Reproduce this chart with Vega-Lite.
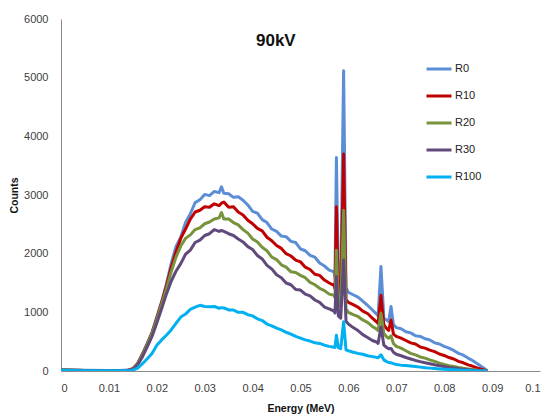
{
  "$schema": "https://vega.github.io/schema/vega-lite/v6.json",
  "width": 479,
  "height": 352,
  "autosize": "none",
  "padding": {"left": 61, "top": 19, "right": 9, "bottom": 48},
  "background": "white",
  "title": {"text": "90kV", "fontSize": 17, "fontWeight": "bold", "font": "Liberation Sans", "color": "#111111", "anchor": "start", "frame": "group", "dx": 195, "dy": 41},
  "config": {
    "view": {"stroke": null},
    "font": "Liberation Sans",
    "axis": {"grid": false, "ticks": false, "tickSize": 0, "domainColor": "#8c8c8c", "domainWidth": 1, "labelFont": "Liberation Sans", "labelFontSize": 11, "labelColor": "#404040", "titleFont": "Liberation Sans", "titleFontSize": 10.5, "titleFontWeight": "bold", "titleColor": "#111111"},
    "legend": {"orient": "none", "legendX": 364, "legendY": 36, "padding": 0, "symbolType": "stroke", "symbolSize": 625, "symbolStrokeWidth": 3, "labelFont": "Liberation Sans", "labelFontSize": 11, "labelColor": "#222222", "labelOffset": 2, "rowPadding": 7, "title": null}
  },
  "data": {"values": [
{"s":"R0","e":0,"c":20},{"s":"R0","e":0.005,"c":12},{"s":"R0","e":0.01,"c":10},{"s":"R0","e":0.012,"c":10},{"s":"R0","e":0.014,"c":15},{"s":"R0","e":0.015,"c":40},{"s":"R0","e":0.016,"c":130},{"s":"R0","e":0.017,"c":290},{"s":"R0","e":0.018,"c":470},{"s":"R0","e":0.019,"c":660},{"s":"R0","e":0.02,"c":920},{"s":"R0","e":0.021,"c":1180},{"s":"R0","e":0.022,"c":1480},{"s":"R0","e":0.023,"c":1830},{"s":"R0","e":0.024,"c":2120},{"s":"R0","e":0.025,"c":2280},{"s":"R0","e":0.026,"c":2530},{"s":"R0","e":0.027,"c":2680},{"s":"R0","e":0.028,"c":2870},{"s":"R0","e":0.029,"c":2920},{"s":"R0","e":0.03,"c":3010},{"s":"R0","e":0.031,"c":2990},{"s":"R0","e":0.032,"c":3060},{"s":"R0","e":0.033,"c":3040},{"s":"R0","e":0.0335,"c":3140},{"s":"R0","e":0.034,"c":3030},{"s":"R0","e":0.035,"c":3020},{"s":"R0","e":0.036,"c":2960},{"s":"R0","e":0.037,"c":2970},{"s":"R0","e":0.038,"c":2910},{"s":"R0","e":0.039,"c":2830},{"s":"R0","e":0.04,"c":2720},{"s":"R0","e":0.041,"c":2690},{"s":"R0","e":0.042,"c":2580},{"s":"R0","e":0.043,"c":2530},{"s":"R0","e":0.044,"c":2420},{"s":"R0","e":0.045,"c":2380},{"s":"R0","e":0.046,"c":2300},{"s":"R0","e":0.047,"c":2290},{"s":"R0","e":0.048,"c":2210},{"s":"R0","e":0.049,"c":2190},{"s":"R0","e":0.05,"c":2080},{"s":"R0","e":0.051,"c":2050},{"s":"R0","e":0.052,"c":1970},{"s":"R0","e":0.053,"c":1940},{"s":"R0","e":0.054,"c":1840},{"s":"R0","e":0.055,"c":1790},{"s":"R0","e":0.056,"c":1720},{"s":"R0","e":0.057,"c":1690},{"s":"R0","e":0.0572,"c":1600},{"s":"R0","e":0.0575,"c":3640},{"s":"R0","e":0.0579,"c":1500},{"s":"R0","e":0.0584,"c":1450},{"s":"R0","e":0.059,"c":5120},{"s":"R0","e":0.0595,"c":1420},{"s":"R0","e":0.06,"c":1340},{"s":"R0","e":0.061,"c":1300},{"s":"R0","e":0.062,"c":1260},{"s":"R0","e":0.063,"c":1190},{"s":"R0","e":0.064,"c":1120},{"s":"R0","e":0.065,"c":1040},{"s":"R0","e":0.066,"c":960},{"s":"R0","e":0.0662,"c":940},{"s":"R0","e":0.0668,"c":1780},{"s":"R0","e":0.0674,"c":900},{"s":"R0","e":0.068,"c":870},{"s":"R0","e":0.0684,"c":840},{"s":"R0","e":0.0689,"c":1100},{"s":"R0","e":0.0694,"c":790},{"s":"R0","e":0.07,"c":740},{"s":"R0","e":0.071,"c":720},{"s":"R0","e":0.072,"c":670},{"s":"R0","e":0.073,"c":650},{"s":"R0","e":0.074,"c":600},{"s":"R0","e":0.075,"c":590},{"s":"R0","e":0.076,"c":550},{"s":"R0","e":0.077,"c":530},{"s":"R0","e":0.078,"c":480},{"s":"R0","e":0.079,"c":460},{"s":"R0","e":0.08,"c":420},{"s":"R0","e":0.081,"c":390},{"s":"R0","e":0.082,"c":350},{"s":"R0","e":0.083,"c":300},{"s":"R0","e":0.084,"c":270},{"s":"R0","e":0.085,"c":220},{"s":"R0","e":0.086,"c":175},{"s":"R0","e":0.087,"c":120},{"s":"R0","e":0.088,"c":65},{"s":"R0","e":0.089,"c":5},
{"s":"R10","e":0,"c":18},{"s":"R10","e":0.005,"c":10},{"s":"R10","e":0.01,"c":8},{"s":"R10","e":0.012,"c":8},{"s":"R10","e":0.014,"c":14},{"s":"R10","e":0.015,"c":38},{"s":"R10","e":0.016,"c":125},{"s":"R10","e":0.017,"c":280},{"s":"R10","e":0.018,"c":460},{"s":"R10","e":0.019,"c":650},{"s":"R10","e":0.02,"c":900},{"s":"R10","e":0.021,"c":1160},{"s":"R10","e":0.022,"c":1450},{"s":"R10","e":0.023,"c":1760},{"s":"R10","e":0.024,"c":2030},{"s":"R10","e":0.025,"c":2260},{"s":"R10","e":0.026,"c":2420},{"s":"R10","e":0.027,"c":2590},{"s":"R10","e":0.028,"c":2710},{"s":"R10","e":0.029,"c":2740},{"s":"R10","e":0.03,"c":2800},{"s":"R10","e":0.031,"c":2790},{"s":"R10","e":0.032,"c":2850},{"s":"R10","e":0.033,"c":2820},{"s":"R10","e":0.0335,"c":2860},{"s":"R10","e":0.034,"c":2880},{"s":"R10","e":0.035,"c":2790},{"s":"R10","e":0.036,"c":2800},{"s":"R10","e":0.037,"c":2710},{"s":"R10","e":0.038,"c":2660},{"s":"R10","e":0.039,"c":2570},{"s":"R10","e":0.04,"c":2510},{"s":"R10","e":0.041,"c":2430},{"s":"R10","e":0.042,"c":2390},{"s":"R10","e":0.043,"c":2280},{"s":"R10","e":0.044,"c":2220},{"s":"R10","e":0.045,"c":2140},{"s":"R10","e":0.046,"c":2090},{"s":"R10","e":0.047,"c":2000},{"s":"R10","e":0.048,"c":1960},{"s":"R10","e":0.049,"c":1890},{"s":"R10","e":0.05,"c":1860},{"s":"R10","e":0.051,"c":1770},{"s":"R10","e":0.052,"c":1730},{"s":"R10","e":0.053,"c":1650},{"s":"R10","e":0.054,"c":1630},{"s":"R10","e":0.055,"c":1550},{"s":"R10","e":0.056,"c":1500},{"s":"R10","e":0.057,"c":1460},{"s":"R10","e":0.0572,"c":1400},{"s":"R10","e":0.0575,"c":2800},{"s":"R10","e":0.0579,"c":1300},{"s":"R10","e":0.0584,"c":1260},{"s":"R10","e":0.059,"c":3700},{"s":"R10","e":0.0595,"c":1220},{"s":"R10","e":0.06,"c":1170},{"s":"R10","e":0.061,"c":1130},{"s":"R10","e":0.062,"c":1090},{"s":"R10","e":0.063,"c":1020},{"s":"R10","e":0.064,"c":980},{"s":"R10","e":0.065,"c":900},{"s":"R10","e":0.066,"c":830},{"s":"R10","e":0.0662,"c":810},{"s":"R10","e":0.0668,"c":1290},{"s":"R10","e":0.0674,"c":790},{"s":"R10","e":0.068,"c":720},{"s":"R10","e":0.0684,"c":690},{"s":"R10","e":0.0689,"c":870},{"s":"R10","e":0.0694,"c":630},{"s":"R10","e":0.07,"c":590},{"s":"R10","e":0.071,"c":560},{"s":"R10","e":0.072,"c":520},{"s":"R10","e":0.073,"c":480},{"s":"R10","e":0.074,"c":460},{"s":"R10","e":0.075,"c":410},{"s":"R10","e":0.076,"c":390},{"s":"R10","e":0.077,"c":355},{"s":"R10","e":0.078,"c":330},{"s":"R10","e":0.079,"c":290},{"s":"R10","e":0.08,"c":265},{"s":"R10","e":0.081,"c":230},{"s":"R10","e":0.082,"c":205},{"s":"R10","e":0.083,"c":165},{"s":"R10","e":0.084,"c":140},{"s":"R10","e":0.085,"c":105},{"s":"R10","e":0.086,"c":80},{"s":"R10","e":0.087,"c":50},{"s":"R10","e":0.088,"c":25},{"s":"R10","e":0.089,"c":3},
{"s":"R20","e":0,"c":16},{"s":"R20","e":0.005,"c":9},{"s":"R20","e":0.01,"c":7},{"s":"R20","e":0.012,"c":7},{"s":"R20","e":0.014,"c":12},{"s":"R20","e":0.015,"c":35},{"s":"R20","e":0.016,"c":120},{"s":"R20","e":0.017,"c":270},{"s":"R20","e":0.018,"c":450},{"s":"R20","e":0.019,"c":640},{"s":"R20","e":0.02,"c":880},{"s":"R20","e":0.021,"c":1130},{"s":"R20","e":0.022,"c":1400},{"s":"R20","e":0.023,"c":1690},{"s":"R20","e":0.024,"c":1940},{"s":"R20","e":0.025,"c":2130},{"s":"R20","e":0.026,"c":2260},{"s":"R20","e":0.027,"c":2320},{"s":"R20","e":0.028,"c":2410},{"s":"R20","e":0.029,"c":2440},{"s":"R20","e":0.03,"c":2510},{"s":"R20","e":0.031,"c":2540},{"s":"R20","e":0.032,"c":2590},{"s":"R20","e":0.033,"c":2610},{"s":"R20","e":0.0335,"c":2700},{"s":"R20","e":0.034,"c":2590},{"s":"R20","e":0.035,"c":2590},{"s":"R20","e":0.036,"c":2530},{"s":"R20","e":0.037,"c":2490},{"s":"R20","e":0.038,"c":2410},{"s":"R20","e":0.039,"c":2350},{"s":"R20","e":0.04,"c":2250},{"s":"R20","e":0.041,"c":2200},{"s":"R20","e":0.042,"c":2110},{"s":"R20","e":0.043,"c":2050},{"s":"R20","e":0.044,"c":1940},{"s":"R20","e":0.045,"c":1900},{"s":"R20","e":0.046,"c":1810},{"s":"R20","e":0.047,"c":1770},{"s":"R20","e":0.048,"c":1690},{"s":"R20","e":0.049,"c":1680},{"s":"R20","e":0.05,"c":1630},{"s":"R20","e":0.051,"c":1590},{"s":"R20","e":0.052,"c":1510},{"s":"R20","e":0.053,"c":1470},{"s":"R20","e":0.054,"c":1410},{"s":"R20","e":0.055,"c":1370},{"s":"R20","e":0.056,"c":1310},{"s":"R20","e":0.057,"c":1290},{"s":"R20","e":0.0572,"c":1250},{"s":"R20","e":0.0575,"c":2060},{"s":"R20","e":0.0579,"c":1150},{"s":"R20","e":0.0584,"c":1100},{"s":"R20","e":0.059,"c":2740},{"s":"R20","e":0.0595,"c":1060},{"s":"R20","e":0.06,"c":1000},{"s":"R20","e":0.061,"c":960},{"s":"R20","e":0.062,"c":930},{"s":"R20","e":0.063,"c":870},{"s":"R20","e":0.064,"c":830},{"s":"R20","e":0.065,"c":760},{"s":"R20","e":0.066,"c":710},{"s":"R20","e":0.0662,"c":690},{"s":"R20","e":0.0668,"c":985},{"s":"R20","e":0.0674,"c":640},{"s":"R20","e":0.068,"c":580},{"s":"R20","e":0.0684,"c":560},{"s":"R20","e":0.0689,"c":600},{"s":"R20","e":0.0694,"c":470},{"s":"R20","e":0.07,"c":420},{"s":"R20","e":0.071,"c":390},{"s":"R20","e":0.072,"c":345},{"s":"R20","e":0.073,"c":300},{"s":"R20","e":0.074,"c":275},{"s":"R20","e":0.075,"c":240},{"s":"R20","e":0.076,"c":220},{"s":"R20","e":0.077,"c":190},{"s":"R20","e":0.078,"c":165},{"s":"R20","e":0.079,"c":135},{"s":"R20","e":0.08,"c":112},{"s":"R20","e":0.081,"c":92},{"s":"R20","e":0.082,"c":76},{"s":"R20","e":0.083,"c":60},{"s":"R20","e":0.084,"c":46},{"s":"R20","e":0.085,"c":35},{"s":"R20","e":0.086,"c":25},{"s":"R20","e":0.087,"c":15},{"s":"R20","e":0.088,"c":8},{"s":"R20","e":0.089,"c":2},
{"s":"R30","e":0,"c":14},{"s":"R30","e":0.005,"c":8},{"s":"R30","e":0.01,"c":6},{"s":"R30","e":0.012,"c":6},{"s":"R30","e":0.014,"c":10},{"s":"R30","e":0.015,"c":30},{"s":"R30","e":0.016,"c":105},{"s":"R30","e":0.017,"c":240},{"s":"R30","e":0.018,"c":410},{"s":"R30","e":0.019,"c":590},{"s":"R30","e":0.02,"c":820},{"s":"R30","e":0.021,"c":1060},{"s":"R30","e":0.022,"c":1310},{"s":"R30","e":0.023,"c":1530},{"s":"R30","e":0.024,"c":1700},{"s":"R30","e":0.025,"c":1830},{"s":"R30","e":0.026,"c":1990},{"s":"R30","e":0.027,"c":2060},{"s":"R30","e":0.028,"c":2190},{"s":"R30","e":0.029,"c":2230},{"s":"R30","e":0.03,"c":2310},{"s":"R30","e":0.031,"c":2340},{"s":"R30","e":0.032,"c":2410},{"s":"R30","e":0.033,"c":2380},{"s":"R30","e":0.0335,"c":2395},{"s":"R30","e":0.034,"c":2380},{"s":"R30","e":0.035,"c":2340},{"s":"R30","e":0.036,"c":2310},{"s":"R30","e":0.037,"c":2250},{"s":"R30","e":0.038,"c":2200},{"s":"R30","e":0.039,"c":2120},{"s":"R30","e":0.04,"c":2070},{"s":"R30","e":0.041,"c":1970},{"s":"R30","e":0.042,"c":1910},{"s":"R30","e":0.043,"c":1800},{"s":"R30","e":0.044,"c":1740},{"s":"R30","e":0.045,"c":1640},{"s":"R30","e":0.046,"c":1590},{"s":"R30","e":0.047,"c":1500},{"s":"R30","e":0.048,"c":1470},{"s":"R30","e":0.049,"c":1390},{"s":"R30","e":0.05,"c":1380},{"s":"R30","e":0.051,"c":1310},{"s":"R30","e":0.052,"c":1280},{"s":"R30","e":0.053,"c":1210},{"s":"R30","e":0.054,"c":1170},{"s":"R30","e":0.055,"c":1090},{"s":"R30","e":0.056,"c":1060},{"s":"R30","e":0.057,"c":1020},{"s":"R30","e":0.0572,"c":990},{"s":"R30","e":0.0575,"c":1610},{"s":"R30","e":0.0579,"c":940},{"s":"R30","e":0.0584,"c":900},{"s":"R30","e":0.059,"c":1890},{"s":"R30","e":0.0595,"c":850},{"s":"R30","e":0.06,"c":800},{"s":"R30","e":0.061,"c":740},{"s":"R30","e":0.062,"c":690},{"s":"R30","e":0.063,"c":620},{"s":"R30","e":0.064,"c":570},{"s":"R30","e":0.065,"c":520},{"s":"R30","e":0.066,"c":490},{"s":"R30","e":0.0662,"c":470},{"s":"R30","e":0.0668,"c":755},{"s":"R30","e":0.0674,"c":440},{"s":"R30","e":0.068,"c":400},{"s":"R30","e":0.0684,"c":380},{"s":"R30","e":0.0689,"c":385},{"s":"R30","e":0.0694,"c":320},{"s":"R30","e":0.07,"c":285},{"s":"R30","e":0.071,"c":260},{"s":"R30","e":0.072,"c":230},{"s":"R30","e":0.073,"c":205},{"s":"R30","e":0.074,"c":180},{"s":"R30","e":0.075,"c":160},{"s":"R30","e":0.076,"c":142},{"s":"R30","e":0.077,"c":125},{"s":"R30","e":0.078,"c":106},{"s":"R30","e":0.079,"c":90},{"s":"R30","e":0.08,"c":76},{"s":"R30","e":0.081,"c":62},{"s":"R30","e":0.082,"c":50},{"s":"R30","e":0.083,"c":40},{"s":"R30","e":0.084,"c":31},{"s":"R30","e":0.085,"c":22},{"s":"R30","e":0.086,"c":15},{"s":"R30","e":0.087,"c":9},{"s":"R30","e":0.088,"c":4},{"s":"R30","e":0.089,"c":1},
{"s":"R100","e":0,"c":12},{"s":"R100","e":0.005,"c":6},{"s":"R100","e":0.01,"c":4},{"s":"R100","e":0.012,"c":4},{"s":"R100","e":0.014,"c":6},{"s":"R100","e":0.015,"c":15},{"s":"R100","e":0.016,"c":50},{"s":"R100","e":0.017,"c":125},{"s":"R100","e":0.018,"c":210},{"s":"R100","e":0.019,"c":300},{"s":"R100","e":0.02,"c":440},{"s":"R100","e":0.021,"c":530},{"s":"R100","e":0.022,"c":610},{"s":"R100","e":0.023,"c":700},{"s":"R100","e":0.024,"c":810},{"s":"R100","e":0.025,"c":920},{"s":"R100","e":0.026,"c":970},{"s":"R100","e":0.027,"c":1050},{"s":"R100","e":0.028,"c":1090},{"s":"R100","e":0.029,"c":1120},{"s":"R100","e":0.03,"c":1100},{"s":"R100","e":0.031,"c":1095},{"s":"R100","e":0.032,"c":1100},{"s":"R100","e":0.033,"c":1070},{"s":"R100","e":0.0335,"c":1080},{"s":"R100","e":0.034,"c":1075},{"s":"R100","e":0.035,"c":1040},{"s":"R100","e":0.036,"c":1040},{"s":"R100","e":0.037,"c":1000},{"s":"R100","e":0.038,"c":1000},{"s":"R100","e":0.039,"c":960},{"s":"R100","e":0.04,"c":940},{"s":"R100","e":0.041,"c":890},{"s":"R100","e":0.042,"c":860},{"s":"R100","e":0.043,"c":800},{"s":"R100","e":0.044,"c":770},{"s":"R100","e":0.045,"c":730},{"s":"R100","e":0.046,"c":700},{"s":"R100","e":0.047,"c":660},{"s":"R100","e":0.048,"c":630},{"s":"R100","e":0.049,"c":590},{"s":"R100","e":0.05,"c":560},{"s":"R100","e":0.051,"c":530},{"s":"R100","e":0.052,"c":510},{"s":"R100","e":0.053,"c":480},{"s":"R100","e":0.054,"c":470},{"s":"R100","e":0.055,"c":440},{"s":"R100","e":0.056,"c":420},{"s":"R100","e":0.057,"c":405},{"s":"R100","e":0.0572,"c":400},{"s":"R100","e":0.0575,"c":610},{"s":"R100","e":0.0579,"c":400},{"s":"R100","e":0.0584,"c":380},{"s":"R100","e":0.059,"c":840},{"s":"R100","e":0.0595,"c":360},{"s":"R100","e":0.06,"c":345},{"s":"R100","e":0.061,"c":320},{"s":"R100","e":0.062,"c":300},{"s":"R100","e":0.063,"c":285},{"s":"R100","e":0.064,"c":260},{"s":"R100","e":0.065,"c":245},{"s":"R100","e":0.066,"c":230},{"s":"R100","e":0.0662,"c":225},{"s":"R100","e":0.0668,"c":275},{"s":"R100","e":0.0674,"c":190},{"s":"R100","e":0.068,"c":160},{"s":"R100","e":0.0684,"c":145},{"s":"R100","e":0.0689,"c":140},{"s":"R100","e":0.0694,"c":125},{"s":"R100","e":0.07,"c":110},{"s":"R100","e":0.071,"c":100},{"s":"R100","e":0.072,"c":95},{"s":"R100","e":0.073,"c":85},{"s":"R100","e":0.074,"c":76},{"s":"R100","e":0.075,"c":66},{"s":"R100","e":0.076,"c":57},{"s":"R100","e":0.077,"c":49},{"s":"R100","e":0.078,"c":42},{"s":"R100","e":0.079,"c":36},{"s":"R100","e":0.08,"c":30},{"s":"R100","e":0.081,"c":25},{"s":"R100","e":0.082,"c":20},{"s":"R100","e":0.083,"c":16},{"s":"R100","e":0.084,"c":12},{"s":"R100","e":0.085,"c":9},{"s":"R100","e":0.086,"c":6},{"s":"R100","e":0.087,"c":4},{"s":"R100","e":0.088,"c":2},{"s":"R100","e":0.089,"c":0}
  ]},
  "mark": {"type": "line", "strokeWidth": 3, "strokeJoin": "round", "interpolate": "linear", "clip": true},
  "encoding": {
    "x": {"field": "e", "type": "quantitative", "scale": {"domain": [0, 0.1], "nice": false, "zero": false},
      "axis": {"values": [0, 0.01, 0.02, 0.03, 0.04, 0.05, 0.06, 0.07, 0.08, 0.09, 0.1], "format": "~g", "labelPadding": 11, "title": "Energy (MeV)", "titleY": 37, "titleBaseline": "middle", "titleAnchor": "middle"}},
    "y": {"field": "c", "type": "quantitative", "scale": {"domain": [0, 6000], "nice": false},
      "axis": {"values": [0, 1000, 2000, 3000, 4000, 5000, 6000], "format": "d", "labelPadding": 13, "title": "Counts", "titleX": -47, "titleY": 176, "titleAngle": -90, "titleAlign": "center", "titleBaseline": "middle"}},
    "color": {"field": "s", "type": "nominal", "sort": ["R0", "R10", "R20", "R30", "R100"],
      "scale": {"domain": ["R0", "R10", "R20", "R30", "R100"], "range": ["#5B8ED6", "#C00000", "#77933C", "#604A7B", "#00B0F0"]},
      "legend": {"title": null}},
    "order": {"field": "e", "type": "quantitative"}
  }
}
